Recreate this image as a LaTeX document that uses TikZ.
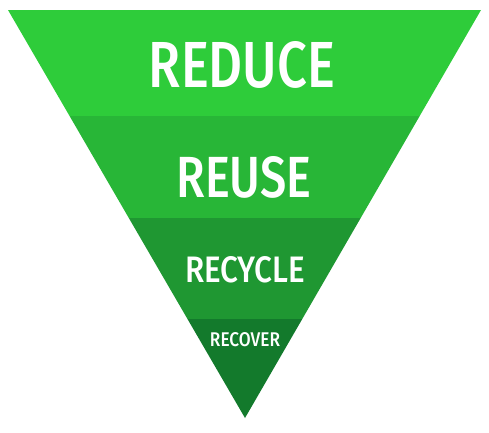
\documentclass[tikz,border=0pt]{standalone}
\usepackage{fontspec}
\setmainfont{Fira Sans}[BoldFont={Fira Sans Medium}]
\definecolor{reduceGreen}{HTML}{2ECC3A}
\definecolor{reuseGreen}{HTML}{28B637}
\definecolor{recycleGreen}{HTML}{1F9732}
\definecolor{recoverGreen}{HTML}{137A2C}
\begin{document}
\begin{tikzpicture}[x=1pt,y=-1pt]
      \useasboundingbox (0,0) rectangle (489,432);

      \coordinate (topleft)  at (8,10);
      \coordinate (topright) at (481,10);
      \coordinate (tip)      at (245,418);

      \begin{scope}
        \clip (topleft) -- (topright) -- (tip) -- cycle;
        \fill[reduceGreen]  (0,10)  rectangle (489,116);
        \fill[reuseGreen]   (0,116) rectangle (489,218);
        \fill[recycleGreen] (0,218) rectangle (489,319);
        \fill[recoverGreen] (0,319) rectangle (489,420);
      \end{scope}

      \begin{scope}[every node/.style={text=white, font=\bfseries, inner sep=0pt}]
        \node (reduce)  at (242,65)  {\resizebox{186pt}{46pt}{REDUCE}};
        \node (reuse)   at (244,177) {\resizebox{135pt}{41pt}{REUSE}};
        \node (recycle) at (245,270) {\resizebox{120pt}{26pt}{RECYCLE}};
        \node (recover) at (245,340) {\resizebox{70pt}{14pt}{RECOVER}};
      \end{scope}

    \end{tikzpicture}
\end{document}
